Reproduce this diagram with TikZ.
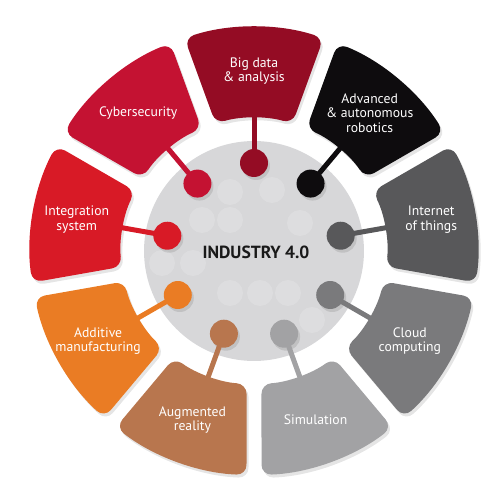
\documentclass[tikz,border=0pt]{standalone}
\usepackage{fontspec}
\setmainfont{PT Sans}
\usetikzlibrary{calc}
\definecolor{cBig}{RGB}{148,12,36}
\definecolor{cAdv}{RGB}{14,12,14}
\definecolor{cInt}{RGB}{88,88,90}
\definecolor{cClo}{RGB}{122,122,124}
\definecolor{cSim}{RGB}{162,162,164}
\definecolor{cAug}{RGB}{184,118,78}
\definecolor{cAdd}{RGB}{234,124,36}
\definecolor{cIsy}{RGB}{216,26,38}
\definecolor{cCyb}{RGB}{196,18,50}
\definecolor{cCore}{RGB}{215,215,217}
\begin{document}
\begin{tikzpicture}[x=0.02cm,y=0.02cm,
  lab/.style={text=white,align=center,font=\fontsize{7.8}{8.3}\selectfont,inner sep=0},
  dotnode/.style={circle,minimum size=0.56cm,inner sep=0,draw=none},
  core/.style={circle,fill=cCore,minimum size=4.4cm,inner sep=0},
  faint/.style={circle,fill=white,fill opacity=0.16,minimum size=0.52cm,inner sep=0},
  link/.style={line width=0.1cm},
  shade/.style={fill=black,fill opacity=0.10}]
\useasboundingbox (-254,-249) rectangle (246,251);
\def\Ri{133}
\def\Ro{224}
% centre disc
\node[core] (core) at (0,0) {};
% faint pattern
\foreach \p/\q [count=\i] in {-24/59,18/61,-52/31,-24/31,46/28,-92/-12,-61/-12,-24/-42,6/-42,34/-42,58/-69}
  \node[faint] (f\i) at (\p,\q) {};
\node[font=\bfseries\fontsize{10}{11}\selectfont,text=black!90] (title) at (2,-1) {INDUSTRY 4.0};
% segments
\foreach \a/\col/\nm/\txt in {
  90/cBig/big/{Big data\\\& analysis},
  50/cAdv/adv/{Advanced\\\& autonomous\\robotics},
  10/cInt/iot/{Internet\\of things},
  -30/cClo/clo/{Cloud\\computing},
  -70/cSim/sim/{Simulation},
  -110/cAug/aug/{Augmented\\reality},
  -150/cAdd/add/{Additive\\manufacturing},
  170/cIsy/isy/{Integration\\system},
  130/cCyb/cyb/{Cybersecurity}}{
  \fill[shade,rounded corners=0.2cm,shift={(2,-3)}] (\a-20+1.92:\Ro) arc[start angle=\a-20+1.92, end angle=\a+20-1.92, radius=\Ro]
     -- (\a+20-3.23:\Ri) arc[start angle=\a+20-3.23, end angle=\a-20+3.23, radius=\Ri] -- cycle;
  \fill[\col,rounded corners=0.2cm] (\a-20+1.92:\Ro) arc[start angle=\a-20+1.92, end angle=\a+20-1.92, radius=\Ro]
     -- (\a+20-3.23:\Ri) arc[start angle=\a+20-3.23, end angle=\a-20+3.23, radius=\Ri] -- cycle;
  \node[lab] (\nm) at (\a:180) {\txt};
  \coordinate (\nm e) at (\a:\Ri+3);
  \fill[shade] ($(\a:88)+(2,-3)$) circle (14);
  \node[dotnode,fill=\col] (\nm d) at (\a:88) {};
  \draw[\col,link] (\nm e) -- (\nm d.center);
}
\end{tikzpicture}
\end{document}
